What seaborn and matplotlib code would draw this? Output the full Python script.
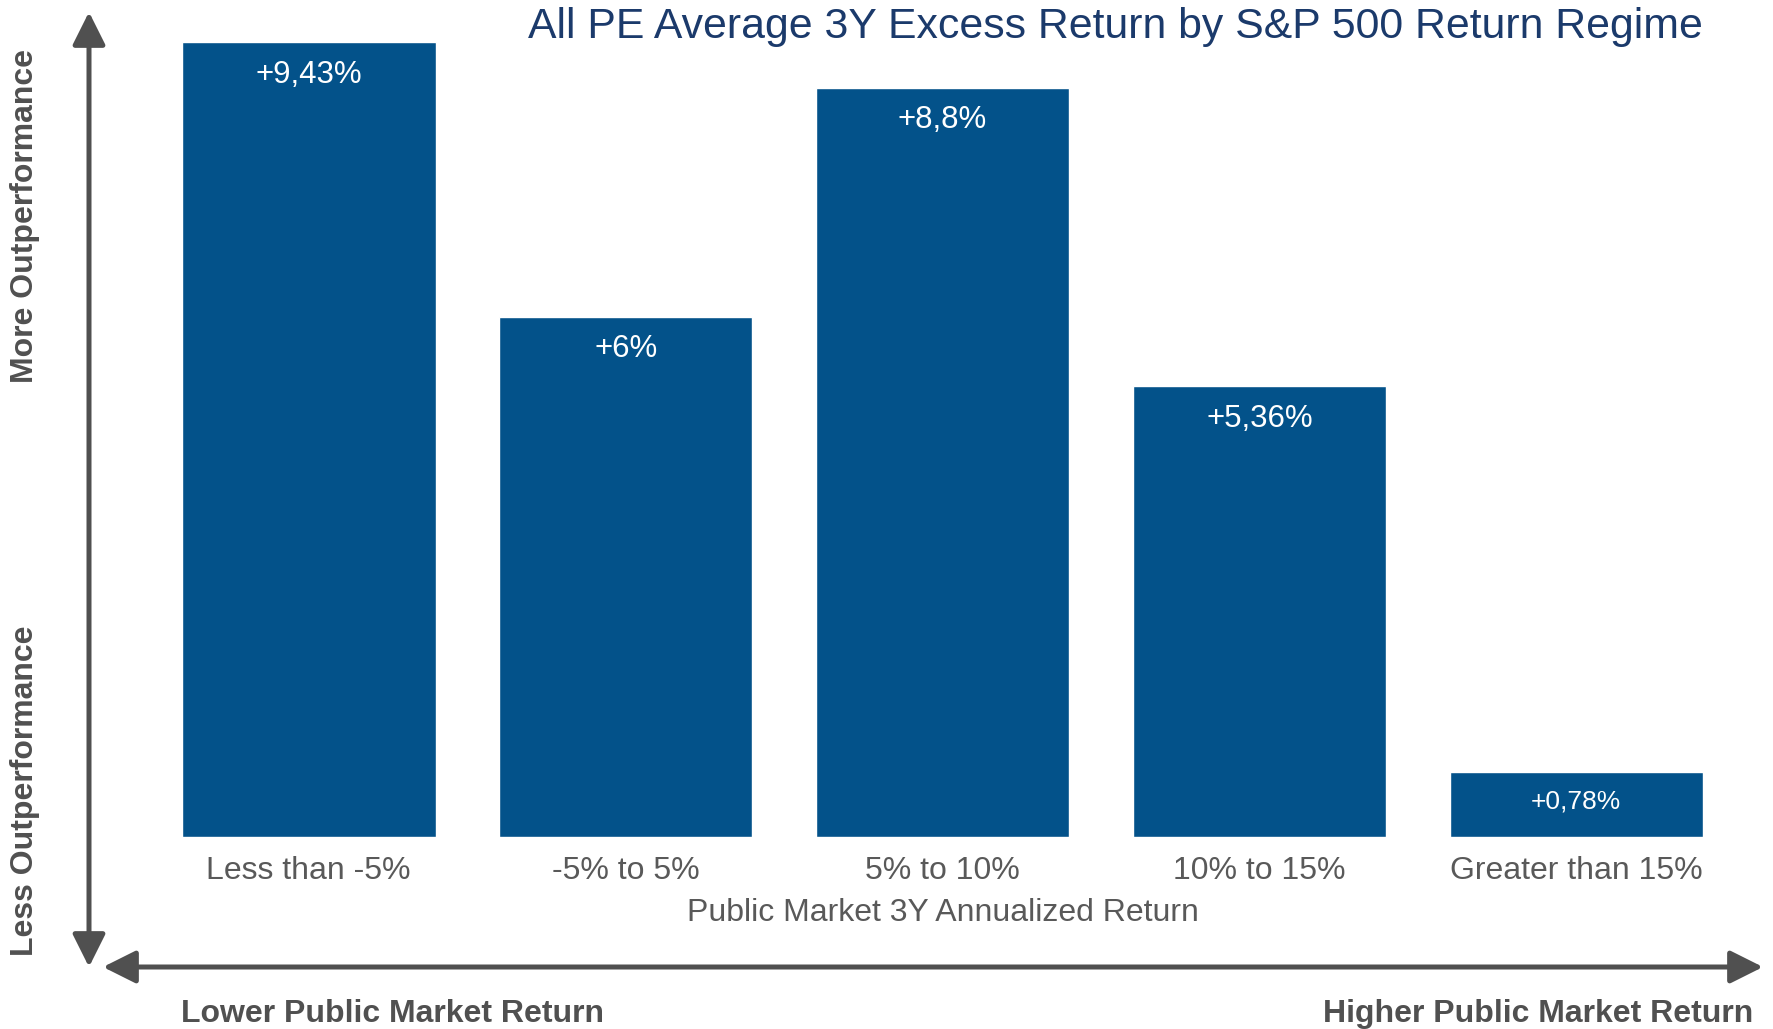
import numpy as np
import pandas as pd
import seaborn as sns
import matplotlib.pyplot as plt
from matplotlib.patches import FancyArrowPatch

# 数据（柱高按图读取，标签按图中文字）
categories = ['Less than -5%', '-5% to 5%', '5% to 10%', '10% to 15%', 'Greater than 15%']
values = [9.43, 6.17, 8.89, 5.35, 0.77]
labels = ['+9,43%', '+6%', '+8,8%', '+5,36%', '+0,78%']

bar_color = '#03528A'
gray = '#595959'
dark_gray = '#505050'

sns.set_style('white')
plt.rcParams['font.family'] = ['Liberation Sans', 'DejaVu Sans']

W, H = 1773, 1029
fig = plt.figure(figsize=(W / 100, H / 100), dpi=100)
ax = fig.add_axes([182 / W, 1 - 837 / H, (1703 - 182) / W, (837 - 42) / H])

df = pd.DataFrame({'cat': categories, 'val': values})
sns.barplot(data=df, x='cat', y='val', color=bar_color, saturation=1, width=0.8, ax=ax)

# 柱内标签
for i, (v, lab) in enumerate(zip(values, labels)):
    small = v < 2
    ax.annotate(lab, xy=(i, v), xytext=(0, -21 if small else -23.5), textcoords='offset points',
                ha='center', va='center', color='white', fontsize=19 if small else 22.5)

ax.set_xlim(-0.4, 4.4)
ax.set_ylim(0, max(values))
ax.set_yticks([])
ax.set_ylabel('')
ax.set_xlabel('Public Market 3Y Annualized Return', fontsize=23, color=gray, labelpad=8)
ax.tick_params(axis='x', length=0, labelsize=23, labelcolor=gray, pad=14)
for s in ax.spines.values():
    s.set_visible(False)

# 标题
fig.text(1703 / W, 1 - 27 / H, 'All PE Average 3Y Excess Return by S&P 500 Return Regime',
         ha='right', va='center', fontsize=30.8, color='#1B3A6B')

# 坐标箭头
def arrow(p0, p1):
    a = FancyArrowPatch(p0, p1, transform=None, arrowstyle='<|-|>,head_length=1.0,head_width=0.5',
                        mutation_scale=20, color=dark_gray, linewidth=3.6,
                        shrinkA=0, shrinkB=0)
    fig.add_artist(a)

arrow((89, H - 12), (89, H - 967))
arrow((103, H - 967), (1763, H - 967))

# 轴向说明文字
fig.text(25 / W, 1 - 216 / H, 'More Outperformance', rotation=90, ha='center', va='center',
         fontsize=23, fontweight='bold', color=dark_gray)
fig.text(25 / W, 1 - 791 / H, 'Less Outperformance', rotation=90, ha='center', va='center',
         fontsize=23, fontweight='bold', color=dark_gray)
fig.text(181 / W, 1 - 1014 / H, 'Lower Public Market Return', ha='left', va='center',
         fontsize=23, fontweight='bold', color=dark_gray)
fig.text(1753 / W, 1 - 1014 / H, 'Higher Public Market Return', ha='right', va='center',
         fontsize=23, fontweight='bold', color=dark_gray)

plt.savefig('out.png', dpi=100)
